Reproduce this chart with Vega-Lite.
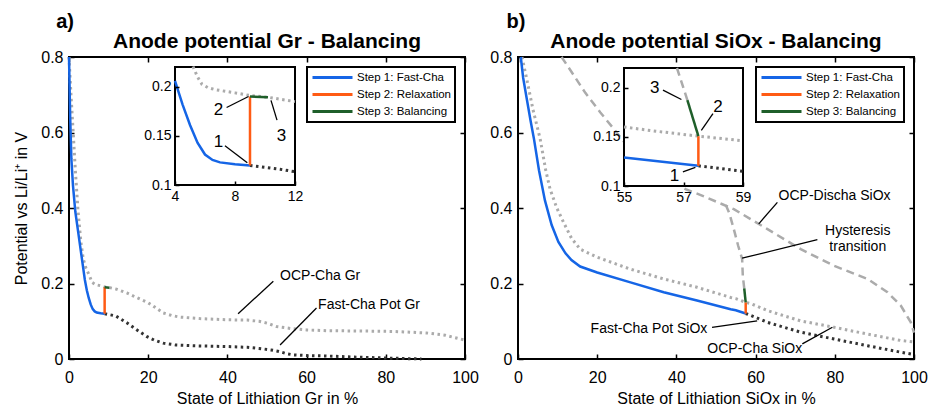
{
  "$schema": "https://vega.github.io/schema/vega-lite/v6.json",
  "padding": {"left": 12, "top": 10, "right": 5, "bottom": 0},
  "spacing": 53,
  "bounds": "flush",
  "resolve": {"scale": {"color": "independent"}},
  "config": {
    "font": "Liberation Sans",
    "view": {"stroke": "black", "strokeWidth": 2},
    "axis": {"grid": false, "domain": false, "tickColor": "black", "tickWidth": 1.5, "tickSize": -5, "labelPadding": 11, "labelFontSize": 16, "labelColor": "black", "titleFontSize": 16, "titleFontWeight": "normal", "titleColor": "black", "labelFlush": false, "labelOverlap": false, "titlePadding": 11, "zindex": 1},
    "axisLeft": {"labelExpr": "format(datum.value, '~g')"},
    "axisBottom": {"labelPadding": 15, "titlePadding": 5},
    "legend": {"orient": "top-right", "offset": 10, "strokeColor": "black", "strokeWidth": 2, "fillColor": "white", "padding": 4, "symbolType": "M-4,0H4", "symbolSize": 100, "symbolStrokeWidth": 3, "symbolOffset": 15, "labelOffset": 18, "labelFontSize": 11.5, "labelColor": "black", "rowPadding": 4},
    "title": {"fontSize": 21, "fontWeight": "bold", "color": "black", "frame": "group", "anchor": "middle", "offset": 6, "dy": 46}
  },
  "hconcat": [
    {
      "width": 396, "height": 302,
      "title": {"text": "Anode potential Gr - Balancing"},
      "resolve": {"scale": {"x": "independent", "y": "independent"}, "axis": {"x": "independent", "y": "independent"}},
      "layer": [
        {
          "encoding": {
            "x": {"field": "x", "type": "quantitative", "scale": {"domain": [0, 100], "nice": false, "zero": false}, "axis": {"orient": "bottom", "values": [0, 20, 40, 60, 80, 100], "title": "State of Lithiation Gr in %"}},
            "y": {"field": "y", "type": "quantitative", "scale": {"domain": [0, 0.8], "nice": false, "zero": false}, "axis": {"orient": "left", "values": [0, 0.2, 0.4, 0.6, 0.8], "title": "Potential vs Li/Li⁺ in V"}}
          },
          "layer": [
            {
              "data": {"values": [
                {"x": 0, "y": 0.8}, {"x": 0.5, "y": 0.7}, {"x": 1.0, "y": 0.61}, {"x": 1.6, "y": 0.5}, {"x": 2.3, "y": 0.39}, {"x": 3.0, "y": 0.31}, {"x": 3.6, "y": 0.265}, {"x": 4.3, "y": 0.24}, {"x": 5.2, "y": 0.22}, {"x": 5.8, "y": 0.203}, {"x": 6.7, "y": 0.197}, {"x": 8, "y": 0.194}, {"x": 9, "y": 0.191}, {"x": 10.3, "y": 0.189}, {"x": 12, "y": 0.185}, {"x": 14.6, "y": 0.175}, {"x": 17, "y": 0.163}, {"x": 20, "y": 0.149}, {"x": 22, "y": 0.135}, {"x": 23.8, "y": 0.122}, {"x": 26, "y": 0.115}, {"x": 28, "y": 0.111}, {"x": 33, "y": 0.107}, {"x": 39.8, "y": 0.104}, {"x": 45, "y": 0.103}, {"x": 48, "y": 0.1}, {"x": 50, "y": 0.095}, {"x": 52.4, "y": 0.086}, {"x": 56.6, "y": 0.08}, {"x": 60, "y": 0.077}, {"x": 65, "y": 0.075}, {"x": 75, "y": 0.074}, {"x": 82, "y": 0.073}, {"x": 90.3, "y": 0.069}, {"x": 95, "y": 0.063}, {"x": 100, "y": 0.05}
              ]},
              "mark": {"type": "line", "color": "#ababab", "strokeWidth": 3, "strokeDash": [2.5, 3.5]},
              "encoding": {}
            },
            {
              "data": {"values": [
                {"x": 9, "y": 0.12}, {"x": 11.8, "y": 0.114}, {"x": 14.6, "y": 0.096}, {"x": 17, "y": 0.078}, {"x": 19.6, "y": 0.06}, {"x": 21.5, "y": 0.05}, {"x": 23.8, "y": 0.042}, {"x": 27, "y": 0.037}, {"x": 31.4, "y": 0.035}, {"x": 39.8, "y": 0.033}, {"x": 45, "y": 0.031}, {"x": 48, "y": 0.028}, {"x": 51, "y": 0.024}, {"x": 53, "y": 0.02}, {"x": 55, "y": 0.014}, {"x": 56.6, "y": 0.011}, {"x": 60, "y": 0.009}, {"x": 65, "y": 0.008}, {"x": 72, "y": 0.005}, {"x": 82, "y": 0.002}, {"x": 89, "y": 0.0}
              ]},
              "mark": {"type": "line", "color": "#333333", "strokeWidth": 3, "strokeDash": [2.5, 3.5]},
              "encoding": {}
            },
            {
              "data": {"values": [
                {"x": 0, "y": 0.8, "step": "Step 1: Fast-Cha"}, {"x": 0.3, "y": 0.64, "step": "Step 1: Fast-Cha"}, {"x": 0.6, "y": 0.53, "step": "Step 1: Fast-Cha"}, {"x": 1.0, "y": 0.46, "step": "Step 1: Fast-Cha"}, {"x": 1.6, "y": 0.39, "step": "Step 1: Fast-Cha"}, {"x": 2.4, "y": 0.33, "step": "Step 1: Fast-Cha"}, {"x": 3.2, "y": 0.27, "step": "Step 1: Fast-Cha"}, {"x": 4, "y": 0.21, "step": "Step 1: Fast-Cha"}, {"x": 4.5, "y": 0.182, "step": "Step 1: Fast-Cha"}, {"x": 5, "y": 0.161, "step": "Step 1: Fast-Cha"}, {"x": 5.5, "y": 0.144, "step": "Step 1: Fast-Cha"}, {"x": 6, "y": 0.132, "step": "Step 1: Fast-Cha"}, {"x": 6.5, "y": 0.126, "step": "Step 1: Fast-Cha"}, {"x": 7, "y": 0.123, "step": "Step 1: Fast-Cha"}, {"x": 8, "y": 0.121, "step": "Step 1: Fast-Cha"}, {"x": 9, "y": 0.12, "step": "Step 1: Fast-Cha"},
                {"x": 9, "y": 0.12, "step": "Step 2: Relaxation"}, {"x": 9, "y": 0.19, "step": "Step 2: Relaxation"},
                {"x": 9, "y": 0.19, "step": "Step 3: Balancing"}, {"x": 10.2, "y": 0.189, "step": "Step 3: Balancing"}
              ]},
              "mark": {"type": "line", "strokeWidth": 2.5},
              "encoding": {
                "color": {"field": "step", "type": "nominal", "scale": {"domain": ["Step 1: Fast-Cha", "Step 2: Relaxation", "Step 3: Balancing"], "range": ["#1565e6", "#ff5b14", "#1f5f2a"]}, "legend": {"title": null}},
                "order": {"value": null}
              }
            },
            {
              "data": {"values": [
                {"x": 51.6, "y": 0.206, "x2": 42.7, "y2": 0.12},
                {"x": 62.5, "y": 0.135, "x2": 53.3, "y2": 0.037}
              ]},
              "mark": {"type": "rule", "color": "black", "strokeWidth": 1.3},
              "encoding": {"x2": {"field": "x2"}, "y2": {"field": "y2"}}
            },
            {
              "data": {"values": [
                {"x": 53.3, "y": 0.219, "label": "OCP-Cha Gr"},
                {"x": 62.9, "y": 0.144, "label": "Fast-Cha Pot Gr"}
              ]},
              "mark": {"type": "text", "align": "left", "baseline": "middle", "fontSize": 14},
              "encoding": {"text": {"field": "label"}}
            },
            {
              "data": {"values": [{"x": -1, "y": 0.893, "label": "a)"}]},
              "mark": {"type": "text", "align": "center", "baseline": "middle", "fontSize": 20, "fontWeight": "bold"},
              "encoding": {"text": {"field": "label"}}
            }
          ]
        },
        {
          "data": {"values": [{"x": 0, "y": 0}]},
          "mark": {"type": "point", "opacity": 0},
          "encoding": {
            "x": {"field": "x", "type": "quantitative", "scale": {"domain": [0, 100], "nice": false, "zero": false}, "axis": {"orient": "top", "values": [0, 20, 40, 60, 80, 100], "labels": false, "title": null}},
            "y": {"field": "y", "type": "quantitative", "scale": {"domain": [0, 0.8], "nice": false, "zero": false}, "axis": {"orient": "right", "values": [0, 0.2, 0.4, 0.6, 0.8], "labels": false, "title": null}}
          }
        },
        {
          "encoding": {
            "x": {"field": "x", "type": "quantitative", "scale": {"domain": [4, 12], "range": [106, 226], "nice": false, "zero": false}, "axis": {"orient": "bottom", "offset": -174, "values": [4, 8, 12], "title": null, "labelFontSize": 14, "tickSize": -4, "labelPadding": 8, "zindex": 2}},
            "y": {"field": "y", "type": "quantitative", "scale": {"domain": [0.1, 0.22], "range": [128, 10], "nice": false, "zero": false}, "axis": {"orient": "left", "offset": -106, "values": [0.1, 0.15, 0.2], "title": null, "labelFontSize": 14, "tickSize": -4, "labelPadding": 8, "zindex": 2}}
          },
          "layer": [
            {
              "data": {"values": [{"x": 4, "x2": 12, "y": 0.1, "y2": 0.22}]},
              "mark": {"type": "rect", "fill": "white", "stroke": "black", "strokeWidth": 2},
              "encoding": {"x2": {"field": "x2"}, "y2": {"field": "y2"}}
            },
            {
              "data": {"values": [
                {"x": 5.2, "y": 0.2205}, {"x": 5.5, "y": 0.21}, {"x": 5.8, "y": 0.2024}, {"x": 6.2, "y": 0.199}, {"x": 6.67, "y": 0.197}, {"x": 8, "y": 0.1937}, {"x": 9, "y": 0.191}, {"x": 10.3, "y": 0.189}, {"x": 12, "y": 0.1848}
              ]},
              "mark": {"type": "line", "color": "#ababab", "strokeWidth": 3, "strokeDash": [2.5, 3.5]},
              "encoding": {}
            },
            {
              "data": {"values": [
                {"x": 9, "y": 0.1198}, {"x": 10, "y": 0.118}, {"x": 11, "y": 0.116}, {"x": 12, "y": 0.1135}
              ]},
              "mark": {"type": "line", "color": "#333333", "strokeWidth": 3, "strokeDash": [2.5, 3.5]},
              "encoding": {}
            },
            {
              "data": {"values": [
                {"x": 4, "y": 0.206, "step": "Step 1: Fast-Cha"}, {"x": 4.5, "y": 0.182, "step": "Step 1: Fast-Cha"}, {"x": 5, "y": 0.161, "step": "Step 1: Fast-Cha"}, {"x": 5.5, "y": 0.143, "step": "Step 1: Fast-Cha"}, {"x": 6, "y": 0.131, "step": "Step 1: Fast-Cha"}, {"x": 6.5, "y": 0.1255, "step": "Step 1: Fast-Cha"}, {"x": 7, "y": 0.123, "step": "Step 1: Fast-Cha"}, {"x": 8, "y": 0.121, "step": "Step 1: Fast-Cha"}, {"x": 9, "y": 0.1198, "step": "Step 1: Fast-Cha"},
                {"x": 9, "y": 0.1198, "step": "Step 2: Relaxation"}, {"x": 9, "y": 0.19, "step": "Step 2: Relaxation"},
                {"x": 9, "y": 0.19, "step": "Step 3: Balancing"}, {"x": 10.2, "y": 0.1893, "step": "Step 3: Balancing"}
              ]},
              "mark": {"type": "line", "strokeWidth": 2.5},
              "encoding": {
                "color": {"field": "step", "type": "nominal", "scale": {"domain": ["Step 1: Fast-Cha", "Step 2: Relaxation", "Step 3: Balancing"], "range": ["#1565e6", "#ff5b14", "#1f5f2a"]}, "legend": {"title": null}},
                "order": {"value": null}
              }
            },
            {
              "data": {"values": [
                {"x": 7.33, "y": 0.14, "x2": 8.82, "y2": 0.1226},
                {"x": 7.44, "y": 0.1788, "x2": 8.9, "y2": 0.19},
                {"x": 10.8, "y": 0.166, "x2": 10.4, "y2": 0.186}
              ]},
              "mark": {"type": "rule", "color": "black", "strokeWidth": 1.3},
              "encoding": {"x2": {"field": "x2"}, "y2": {"field": "y2"}}
            },
            {
              "data": {"values": [
                {"x": 6.9, "y": 0.1434, "label": "1"},
                {"x": 6.9, "y": 0.176, "label": "2"},
                {"x": 11.1, "y": 0.15, "label": "3"}
              ]},
              "mark": {"type": "text", "align": "center", "baseline": "middle", "fontSize": 17},
              "encoding": {"text": {"field": "label"}}
            }
          ]
        }
      ]
    },
    {
      "width": 396, "height": 302,
      "title": {"text": "Anode potential SiOx - Balancing"},
      "resolve": {"scale": {"x": "independent", "y": "independent"}, "axis": {"x": "independent", "y": "independent"}},
      "layer": [
        {
          "encoding": {
            "x": {"field": "x", "type": "quantitative", "scale": {"domain": [0, 100], "nice": false, "zero": false}, "axis": {"orient": "bottom", "values": [0, 20, 40, 60, 80, 100], "title": "State of Lithiation SiOx in %"}},
            "y": {"field": "y", "type": "quantitative", "scale": {"domain": [0, 0.8], "nice": false, "zero": false}, "axis": {"orient": "left", "values": [0, 0.2, 0.4, 0.6, 0.8], "title": null}}
          },
          "layer": [
            {
              "data": {"values": [
                {"x": 1.0, "y": 0.8}, {"x": 2.2, "y": 0.742}, {"x": 3.8, "y": 0.66}, {"x": 5.6, "y": 0.583}, {"x": 7, "y": 0.5}, {"x": 8.1, "y": 0.45}, {"x": 9.8, "y": 0.4}, {"x": 11.5, "y": 0.362}, {"x": 13.5, "y": 0.32}, {"x": 15.7, "y": 0.291}, {"x": 19.9, "y": 0.27}, {"x": 28.4, "y": 0.238}, {"x": 36.8, "y": 0.212}, {"x": 45.2, "y": 0.19}, {"x": 53.7, "y": 0.163}, {"x": 55, "y": 0.16}, {"x": 57.5, "y": 0.15}, {"x": 59, "y": 0.146}, {"x": 63, "y": 0.128}, {"x": 71.4, "y": 0.101}, {"x": 79.8, "y": 0.084}, {"x": 88.3, "y": 0.066}, {"x": 96.7, "y": 0.049}, {"x": 100, "y": 0.045}
              ]},
              "mark": {"type": "line", "color": "#ababab", "strokeWidth": 3, "strokeDash": [2.5, 3.5]},
              "encoding": {}
            },
            {
              "data": {"values": [
                {"x": 11, "y": 0.8}, {"x": 14.5, "y": 0.745}, {"x": 17, "y": 0.705}, {"x": 20.8, "y": 0.653}, {"x": 24, "y": 0.612}, {"x": 26.8, "y": 0.575}, {"x": 30, "y": 0.545}, {"x": 35, "y": 0.5}, {"x": 42.3, "y": 0.45}, {"x": 46, "y": 0.435}, {"x": 51.6, "y": 0.41}, {"x": 54.5, "y": 0.397}, {"x": 63, "y": 0.344}, {"x": 71.4, "y": 0.291}, {"x": 79.8, "y": 0.247}, {"x": 88.3, "y": 0.212}, {"x": 93.3, "y": 0.177}, {"x": 96.7, "y": 0.141}, {"x": 99.2, "y": 0.097}, {"x": 100, "y": 0.07}
              ]},
              "mark": {"type": "line", "color": "#ababab", "strokeWidth": 2.5, "strokeDash": [8, 5]},
              "encoding": {}
            },
            {
              "data": {"values": [
                {"x": 57.13, "y": 0.187}, {"x": 56.77, "y": 0.22}, {"x": 56.6, "y": 0.265}, {"x": 55.6, "y": 0.3}, {"x": 54.5, "y": 0.344}, {"x": 53.4, "y": 0.385}, {"x": 52.4, "y": 0.41}
              ]},
              "mark": {"type": "line", "color": "#ababab", "strokeWidth": 2.5, "strokeDash": [8, 5]},
              "encoding": {"order": {"value": null}}
            },
            {
              "data": {"values": [
                {"x": 57.5, "y": 0.1205}, {"x": 58.8, "y": 0.1154}, {"x": 63, "y": 0.097}, {"x": 71.4, "y": 0.071}, {"x": 79.8, "y": 0.053}, {"x": 88.3, "y": 0.035}, {"x": 96.7, "y": 0.018}, {"x": 99.4, "y": 0.013}
              ]},
              "mark": {"type": "line", "color": "#333333", "strokeWidth": 3, "strokeDash": [2.5, 3.5]},
              "encoding": {}
            },
            {
              "data": {"values": [
                {"x": 0.7, "y": 0.8, "step": "Step 1: Fast-Cha"}, {"x": 1.3, "y": 0.745, "step": "Step 1: Fast-Cha"}, {"x": 2.2, "y": 0.69, "step": "Step 1: Fast-Cha"}, {"x": 3.2, "y": 0.63, "step": "Step 1: Fast-Cha"}, {"x": 4.0, "y": 0.585, "step": "Step 1: Fast-Cha"}, {"x": 5.3, "y": 0.5, "step": "Step 1: Fast-Cha"}, {"x": 6.8, "y": 0.42, "step": "Step 1: Fast-Cha"}, {"x": 8.5, "y": 0.355, "step": "Step 1: Fast-Cha"}, {"x": 10.2, "y": 0.31, "step": "Step 1: Fast-Cha"}, {"x": 12, "y": 0.28, "step": "Step 1: Fast-Cha"}, {"x": 13.5, "y": 0.262, "step": "Step 1: Fast-Cha"}, {"x": 15.7, "y": 0.245, "step": "Step 1: Fast-Cha"}, {"x": 20, "y": 0.229, "step": "Step 1: Fast-Cha"}, {"x": 28.4, "y": 0.203, "step": "Step 1: Fast-Cha"}, {"x": 36.8, "y": 0.177, "step": "Step 1: Fast-Cha"}, {"x": 45.2, "y": 0.155, "step": "Step 1: Fast-Cha"}, {"x": 53.7, "y": 0.132, "step": "Step 1: Fast-Cha"}, {"x": 55, "y": 0.129, "step": "Step 1: Fast-Cha"}, {"x": 57.5, "y": 0.1205, "step": "Step 1: Fast-Cha"},
                {"x": 57.5, "y": 0.1205, "step": "Step 2: Relaxation"}, {"x": 57.5, "y": 0.15, "step": "Step 2: Relaxation"},
                {"x": 57.5, "y": 0.15, "step": "Step 3: Balancing"}, {"x": 57.13, "y": 0.187, "step": "Step 3: Balancing"}
              ]},
              "mark": {"type": "line", "strokeWidth": 2.5},
              "encoding": {
                "color": {"field": "step", "type": "nominal", "scale": {"domain": ["Step 1: Fast-Cha", "Step 2: Relaxation", "Step 3: Balancing"], "range": ["#1565e6", "#ff5b14", "#1f5f2a"]}, "legend": {"title": null}},
                "order": {"value": null}
              }
            },
            {
              "data": {"values": [
                {"x": 65.5, "y": 0.415, "x2": 60.8, "y2": 0.358},
                {"x": 75.6, "y": 0.316, "x2": 56.6, "y2": 0.267},
                {"x": 49, "y": 0.084, "x2": 60.4, "y2": 0.101},
                {"x": 71.8, "y": 0.04, "x2": 79.4, "y2": 0.084}
              ]},
              "mark": {"type": "rule", "color": "black", "strokeWidth": 1.3},
              "encoding": {"x2": {"field": "x2"}, "y2": {"field": "y2"}}
            },
            {
              "data": {"values": [
                {"x": 65.8, "y": 0.433, "label": "OCP-Discha SiOx"},
                {"x": 47.8, "y": 0.026, "label": "OCP-Cha SiOx"}
              ]},
              "mark": {"type": "text", "align": "left", "baseline": "middle", "fontSize": 14},
              "encoding": {"text": {"field": "label"}}
            },
            {
              "data": {"values": [
                {"x": 47.8, "y": 0.079, "label": "Fast-Cha Pot SiOx"}
              ]},
              "mark": {"type": "text", "align": "right", "baseline": "middle", "fontSize": 14},
              "encoding": {"text": {"field": "label"}}
            },
            {
              "data": {"values": [
                {"x": 85.8, "y": 0.34, "label": ["Hysteresis", "transition"]}
              ]},
              "mark": {"type": "text", "align": "center", "baseline": "middle", "fontSize": 14, "lineHeight": 16},
              "encoding": {"text": {"field": "label"}}
            },
            {
              "data": {"values": [{"x": -0.5, "y": 0.893, "label": "b)"}]},
              "mark": {"type": "text", "align": "center", "baseline": "middle", "fontSize": 20, "fontWeight": "bold"},
              "encoding": {"text": {"field": "label"}}
            }
          ]
        },
        {
          "data": {"values": [{"x": 0, "y": 0}]},
          "mark": {"type": "point", "opacity": 0},
          "encoding": {
            "x": {"field": "x", "type": "quantitative", "scale": {"domain": [0, 100], "nice": false, "zero": false}, "axis": {"orient": "top", "values": [0, 20, 40, 60, 80, 100], "labels": false, "title": null}},
            "y": {"field": "y", "type": "quantitative", "scale": {"domain": [0, 0.8], "nice": false, "zero": false}, "axis": {"orient": "right", "values": [0, 0.2, 0.4, 0.6, 0.8], "labels": false, "title": null}}
          }
        },
        {
          "encoding": {
            "x": {"field": "x", "type": "quantitative", "scale": {"domain": [55, 59], "range": [106, 225], "nice": false, "zero": false}, "axis": {"orient": "bottom", "offset": -173, "values": [55, 57, 59], "title": null, "labelFontSize": 14, "tickSize": -4, "labelPadding": 8, "zindex": 2}},
            "y": {"field": "y", "type": "quantitative", "scale": {"domain": [0.1, 0.22], "range": [129, 11], "nice": false, "zero": false}, "axis": {"orient": "left", "offset": -106, "values": [0.1, 0.15, 0.2], "title": null, "labelFontSize": 14, "tickSize": -4, "labelPadding": 8, "zindex": 2}}
          },
          "layer": [
            {
              "data": {"values": [{"x": 55, "x2": 59, "y": 0.1, "y2": 0.22}]},
              "mark": {"type": "rect", "fill": "white", "stroke": "black", "strokeWidth": 2},
              "encoding": {"x2": {"field": "x2"}, "y2": {"field": "y2"}}
            },
            {
              "data": {"values": [
                {"x": 55, "y": 0.16}, {"x": 56, "y": 0.156}, {"x": 57.5, "y": 0.1507}, {"x": 59, "y": 0.146}
              ]},
              "mark": {"type": "line", "color": "#ababab", "strokeWidth": 3, "strokeDash": [2.5, 3.5]},
              "encoding": {}
            },
            {
              "data": {"values": [
                {"x": 57.5, "y": 0.1205}, {"x": 59, "y": 0.115}
              ]},
              "mark": {"type": "line", "color": "#333333", "strokeWidth": 3, "strokeDash": [2.5, 3.5]},
              "encoding": {}
            },
            {
              "data": {"values": [
                {"x": 57.13, "y": 0.1873}, {"x": 56.78, "y": 0.22}
              ]},
              "mark": {"type": "line", "color": "#ababab", "strokeWidth": 2.5, "strokeDash": [8, 5]},
              "encoding": {}
            },
            {
              "data": {"values": [
                {"x": 55, "y": 0.129, "step": "Step 1: Fast-Cha"}, {"x": 57.5, "y": 0.1205, "step": "Step 1: Fast-Cha"},
                {"x": 57.5, "y": 0.1205, "step": "Step 2: Relaxation"}, {"x": 57.5, "y": 0.1507, "step": "Step 2: Relaxation"},
                {"x": 57.5, "y": 0.1507, "step": "Step 3: Balancing"}, {"x": 57.13, "y": 0.1873, "step": "Step 3: Balancing"}
              ]},
              "mark": {"type": "line", "strokeWidth": 2.5},
              "encoding": {
                "color": {"field": "step", "type": "nominal", "scale": {"domain": ["Step 1: Fast-Cha", "Step 2: Relaxation", "Step 3: Balancing"], "range": ["#1565e6", "#ff5b14", "#1f5f2a"]}, "legend": {"title": null}},
                "order": {"value": null}
              }
            },
            {
              "data": {"values": [
                {"x": 56.31, "y": 0.1975, "x2": 56.93, "y2": 0.188},
                {"x": 57.99, "y": 0.1736, "x2": 57.6, "y2": 0.1565},
                {"x": 56.98, "y": 0.1144, "x2": 57.4, "y2": 0.119}
              ]},
              "mark": {"type": "rule", "color": "black", "strokeWidth": 1.3},
              "encoding": {"x2": {"field": "x2"}, "y2": {"field": "y2"}}
            },
            {
              "data": {"values": [
                {"x": 56.03, "y": 0.2, "label": "3"},
                {"x": 58.16, "y": 0.1805, "label": "2"},
                {"x": 56.7, "y": 0.1103, "label": "1"}
              ]},
              "mark": {"type": "text", "align": "center", "baseline": "middle", "fontSize": 17},
              "encoding": {"text": {"field": "label"}}
            }
          ]
        }
      ]
    }
  ]
}
